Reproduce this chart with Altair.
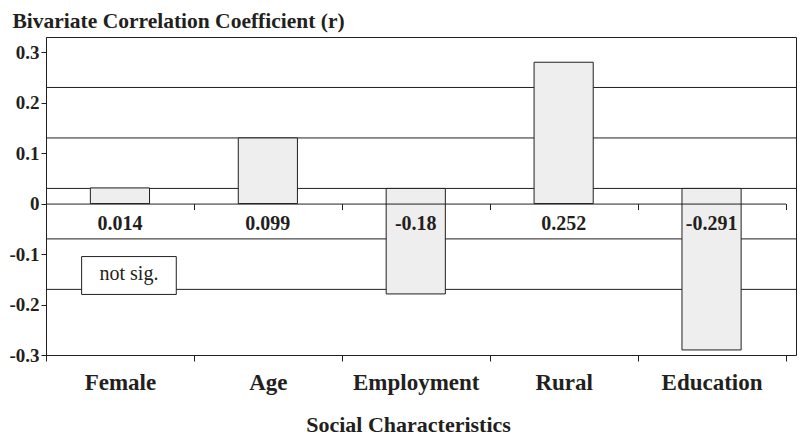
import altair as alt
import pandas as pd

# ---- data ----
categories = ["Female", "Age", "Employment", "Rural", "Education"]
bar_base = [0.0, 0.0, 0.03, 0.0, 0.03]
bar_end = [0.031, 0.130, -0.179, 0.280, -0.290]
value_labels = ["0.014", "0.099", "-0.18", "0.252", "-0.291"]
grid_levels = [0.23, 0.13, 0.03, -0.07, -0.17]
y_ticks = [-0.3, -0.2, -0.1, 0.0, 0.1, 0.2, 0.3]
note_category = ["Female"]
note_text = ["not sig."]
note_top = [-0.105]
note_bottom = [-0.18]

# ---- layout / style ----
Y_MIN, Y_MAX = -0.3, 0.33
W, H = 750, 318
BAND_RANGE = 739.5
LABEL_LEVEL = -0.04
NOTE_TEXT_LEVEL = -0.151
INK = "#231f20"
FONT = "Liberation Serif"

bars_df = pd.DataFrame({"category": categories, "base": bar_base,
                        "end": bar_end, "label": value_labels})
grid_df = pd.DataFrame({"level": grid_levels})
note_df = pd.DataFrame({"category": note_category, "top": note_top,
                        "bottom": note_bottom, "text": note_text})

yscale = alt.Scale(domain=[Y_MIN, Y_MAX], nice=False, zero=False)
xscale = alt.Scale(domain=categories, range=[0, BAND_RANGE],
                   paddingInner=0, paddingOuter=0)
zero_offset = (Y_MAX - 0.0) / (Y_MAX - Y_MIN) * H - H

grid = alt.Chart(grid_df).mark_rule(color=INK, strokeWidth=1).encode(
    y=alt.Y("level:Q", scale=yscale, axis=None)
)

bars = alt.Chart(bars_df).mark_bar(
    width=alt.RelativeBandSize(0.4), fill="#eeeeee", stroke=INK, strokeWidth=1
).encode(
    x=alt.X("category:N", sort=categories, scale=xscale,
            axis=alt.Axis(orient="bottom", title="Social Characteristics",
                          labelAngle=0, tickBand="extent", tickSize=6,
                          labelFontSize=23, labelFontWeight="bold",
                          labelBaseline="alphabetic", labelPadding=28,
                          titleFontSize=22, titleFontWeight="bold",
                          titleBaseline="alphabetic", titleY=76, titleX=362,
                          titleAlign="center", grid=False)),
    y=alt.Y("end:Q", scale=yscale,
            axis=alt.Axis(orient="left", values=y_ticks, grid=False,
                          tickSize=5, labelPadding=2, labelFontSize=19,
                          labelFontWeight="bold",
                          labelExpr="datum.value < -0.001 ? '-' + format(-datum.value, '.1f') : (datum.value > 0.001 ? format(datum.value, '.1f') : '0')",
                          title="Bivariate Correlation Coefficient (r)",
                          titleAngle=0, titleAlign="left",
                          titleBaseline="alphabetic", titleX=-34, titleY=-10,
                          titleFontSize=21.5, titleFontWeight="bold")),
    y2="base:Q",
)

note_box = alt.Chart(note_df).mark_bar(
    width=alt.RelativeBandSize(0.64), xOffset=9, fill="white",
    stroke=INK, strokeWidth=1
).encode(
    x=alt.X("category:N", sort=categories, scale=xscale, axis=None),
    y=alt.Y("top:Q", scale=yscale, axis=None),
    y2="bottom:Q",
)

note_label = alt.Chart(note_df).transform_calculate(
    ly=str(NOTE_TEXT_LEVEL)
).mark_text(
    font=FONT, fontSize=20, color=INK, dx=9, baseline="alphabetic"
).encode(
    x=alt.X("category:N", sort=categories, scale=xscale, axis=None),
    y=alt.Y("ly:Q", scale=yscale, axis=None),
    text="text:N",
)

labels = alt.Chart(bars_df).transform_calculate(
    ly=str(LABEL_LEVEL)
).mark_text(
    font=FONT, fontSize=20, fontWeight="bold", color=INK, baseline="middle"
).encode(
    x=alt.X("category:N", sort=categories, scale=xscale,
            axis=alt.Axis(orient="bottom", offset=zero_offset,
                          tickBand="extent", tickSize=6, labels=False,
                          title=None, grid=False, zindex=1)),
    y=alt.Y("ly:Q", scale=yscale, axis=None),
    text="label:N",
)

chart = alt.layer(grid, bars, note_box, note_label, labels).resolve_axis(
    x="independent", y="independent"
).properties(
    width=W, height=H,
    autosize=alt.AutoSizeParams(type="none"),
    padding={"left": 38, "top": 29, "right": 2, "bottom": 80},
    background="white",
).configure_view(
    stroke=INK, strokeWidth=1
).configure_axis(
    labelFont=FONT, titleFont=FONT, labelColor=INK, titleColor=INK,
    domainColor=INK, tickColor=INK, domainWidth=1, tickWidth=1
)

chart.save("out.html", embed_options={"renderer": "svg", "actions": False})
